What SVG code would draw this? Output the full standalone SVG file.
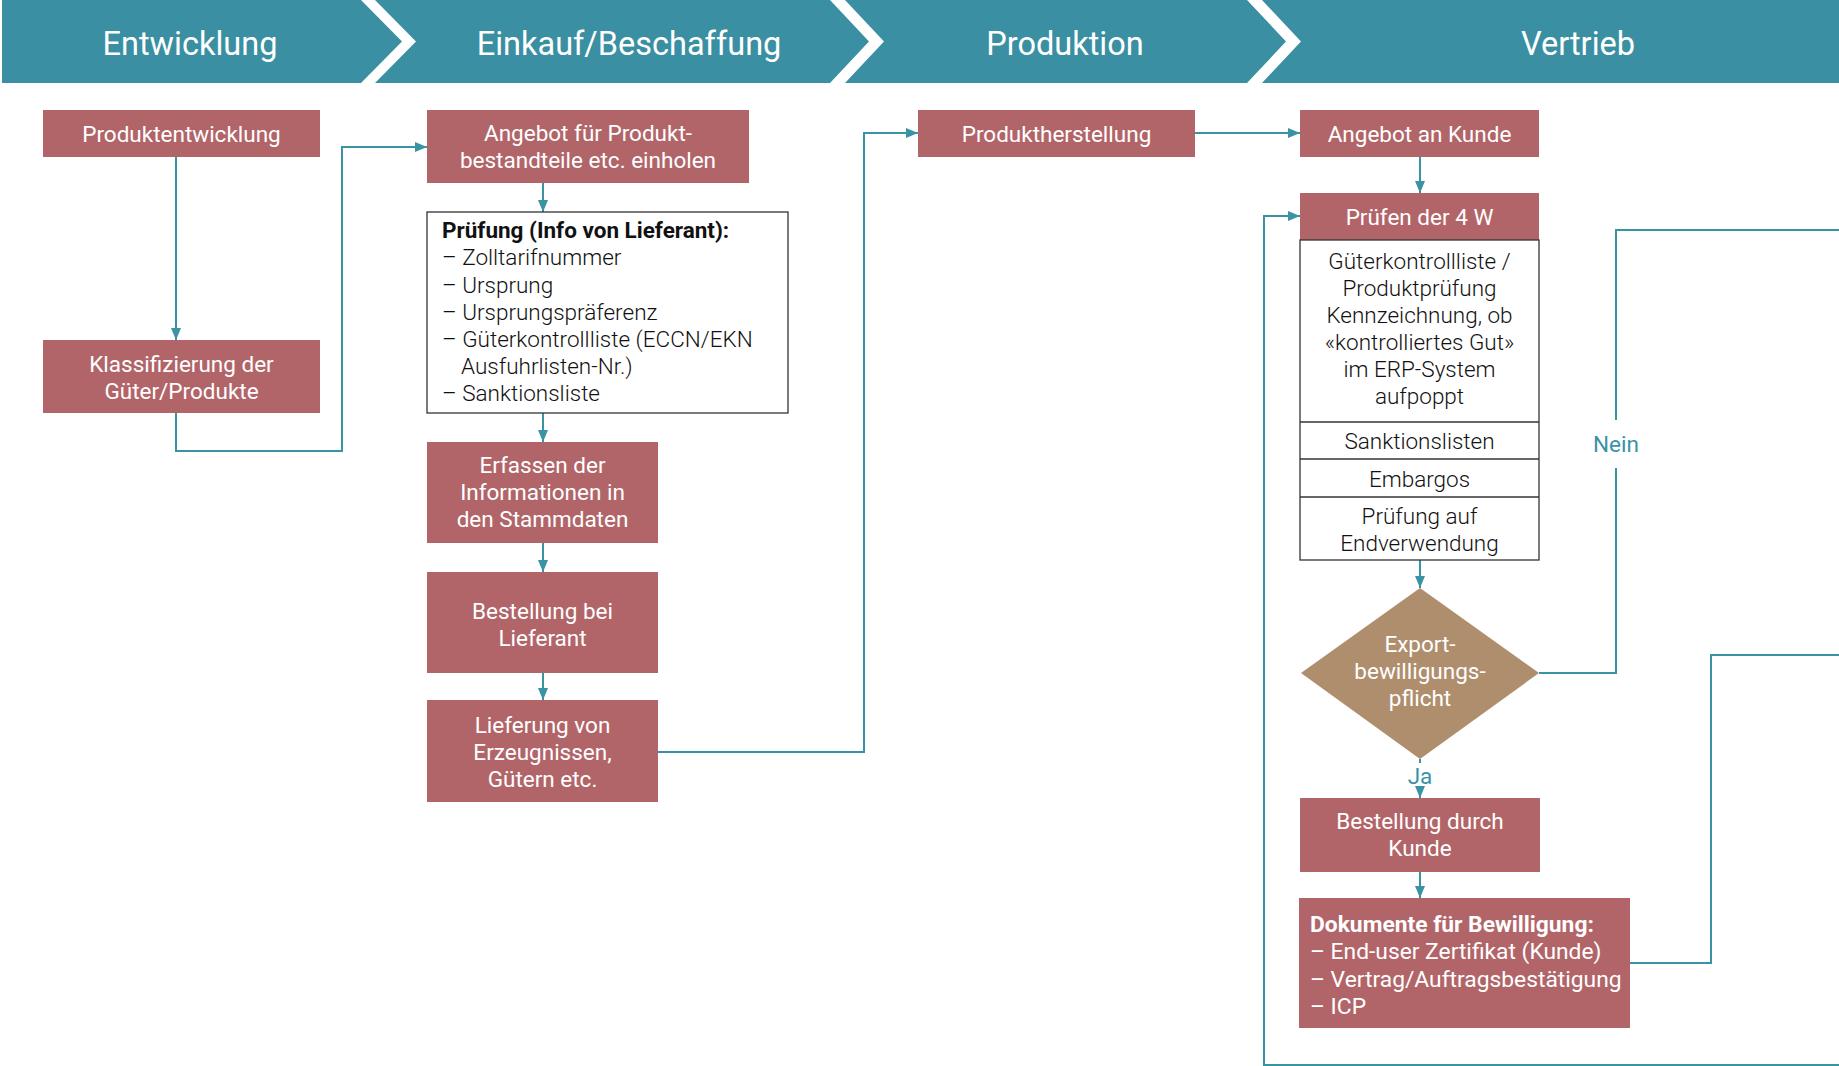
<svg xmlns="http://www.w3.org/2000/svg" width="1839" height="1066" viewBox="0 0 1839 1066">
<defs>
<marker id="ah" viewBox="0 0 12 10" refX="12" refY="5" markerWidth="12" markerHeight="10" markerUnits="userSpaceOnUse" orient="auto">
<path d="M0 0 L12 5 L0 10 Z" fill="#3A92A5"/>
</marker>
<style>
.hdr{fill:#3A8FA2}
.ht{font-family:Roboto,"Liberation Sans",sans-serif;font-size:32.5px;fill:#fff;text-anchor:middle}
.box{fill:#B26569}
.bt{font-family:Roboto,"Liberation Sans",sans-serif;font-size:22.5px;fill:#fff;text-anchor:middle}
.btl{font-family:Roboto,"Liberation Sans",sans-serif;font-size:22.8px;fill:#fff}
.wbox{fill:#fff;stroke:#333;stroke-width:1.3}
.lt{font-family:Roboto,"Liberation Sans",sans-serif;font-size:22.5px;font-weight:300;fill:#111}
.ltc{font-family:Roboto,"Liberation Sans",sans-serif;font-size:22.5px;font-weight:300;fill:#111;text-anchor:middle}
.dia{fill:#AF8E6E}
.con{fill:none;stroke:#3A92A5;stroke-width:2}
.lbl{font-family:Roboto,"Liberation Sans",sans-serif;font-size:22.5px;fill:#3A92A5;text-anchor:middle}
</style>
</defs>
<rect width="1839" height="1066" fill="#fff"/>
<g id="header">
<polygon class="hdr" points="2,0 361,0 402,41.5 361,83 2,83"/>
<polygon class="hdr" points="375,0 830,0 869,41.5 830,83 375,83 416,41.5"/>
<polygon class="hdr" points="845,0 1247,0 1286,41.5 1247,83 845,83 884,41.5"/>
<polygon class="hdr" points="1262,0 1839,0 1839,83 1262,83 1301,41.5"/>
<text class="ht" x="190" y="55">Entwicklung</text>
<text class="ht" x="629" y="55">Einkauf/Beschaffung</text>
<text class="ht" x="1065" y="55">Produktion</text>
<text class="ht" x="1578" y="55">Vertrieb</text>
</g>
<g id="connectors">
<path class="con" d="M176 157 V340" marker-end="url(#ah)"/>
<path class="con" d="M176 413 V451 H342 V147 H427" marker-end="url(#ah)"/>
<path class="con" d="M543 183 V212" marker-end="url(#ah)"/>
<path class="con" d="M543 413 V442" marker-end="url(#ah)"/>
<path class="con" d="M543 543 V572" marker-end="url(#ah)"/>
<path class="con" d="M543 673 V700" marker-end="url(#ah)"/>
<path class="con" d="M658 752 H864 V133 H918" marker-end="url(#ah)"/>
<path class="con" d="M1195 133 H1300" marker-end="url(#ah)"/>
<path class="con" d="M1420 157 V193" marker-end="url(#ah)"/>
<path class="con" d="M1839 1065 H1264 V216 H1300" marker-end="url(#ah)"/>
<path class="con" d="M1420 560 V588" marker-end="url(#ah)"/>
<path class="con" d="M1539 673 H1616 V468 M1616 420 V230 H1839"/>
<path class="con" d="M1420 759 V763 M1420 787 V798" marker-end="url(#ah)"/>
<path class="con" d="M1420 872 V898" marker-end="url(#ah)"/>
<path class="con" d="M1630 963 H1711 V655 H1839"/>
<text class="lbl" x="1616" y="452">Nein</text>
<text class="lbl" x="1420" y="784">Ja</text>
</g>
<g id="produktentwicklung">
<rect class="box" x="43" y="110" width="277" height="47"/>
<text class="bt" x="181.5" y="141.5">Produktentwicklung</text>
</g>
<g id="klassifizierung">
<rect class="box" x="43" y="340" width="277" height="73"/>
<text class="bt" x="181.5" y="372">Klassifizierung der</text>
<text class="bt" x="181.5" y="399">Güter/Produkte</text>
</g>
<g id="angebot-produkt">
<rect class="box" x="427" y="110" width="322" height="73"/>
<text class="bt" x="588" y="141">Angebot für Produkt-</text>
<text class="bt" x="588" y="168">bestandteile etc. einholen</text>
</g>
<g id="pruefung">
<rect class="wbox" x="427" y="212" width="361" height="201"/>
<text class="lt" x="442" y="238" style="font-weight:700">Prüfung (Info von Lieferant):</text>
<text class="lt" x="442" y="265">– Zolltarifnummer</text>
<text class="lt" x="442" y="293">– Ursprung</text>
<text class="lt" x="442" y="320">– Ursprungspräferenz</text>
<text class="lt" x="442" y="347">– Güterkontrollliste (ECCN/EKN</text>
<text class="lt" x="461" y="374">Ausfuhrlisten-Nr.)</text>
<text class="lt" x="442" y="401">– Sanktionsliste</text>
</g>
<g id="erfassen">
<rect class="box" x="427" y="442" width="231" height="101"/>
<text class="bt" x="542.5" y="473">Erfassen der</text>
<text class="bt" x="542.5" y="500">Informationen in</text>
<text class="bt" x="542.5" y="527">den Stammdaten</text>
</g>
<g id="bestellung-lieferant">
<rect class="box" x="427" y="572" width="231" height="101"/>
<text class="bt" x="542.5" y="619">Bestellung bei</text>
<text class="bt" x="542.5" y="646">Lieferant</text>
</g>
<g id="lieferung">
<rect class="box" x="427" y="700" width="231" height="102"/>
<text class="bt" x="542.5" y="733">Lieferung von</text>
<text class="bt" x="542.5" y="760">Erzeugnissen,</text>
<text class="bt" x="542.5" y="787">Gütern etc.</text>
</g>
<g id="produktherstellung">
<rect class="box" x="918" y="110" width="277" height="47"/>
<text class="bt" x="1056.5" y="141.5">Produktherstellung</text>
</g>
<g id="angebot-kunde">
<rect class="box" x="1300" y="110" width="239" height="47"/>
<text class="bt" x="1419.5" y="141.5">Angebot an Kunde</text>
</g>
<g id="pruefen-4w">
<rect class="box" x="1300" y="193" width="239" height="47"/>
<text class="bt" x="1419.5" y="224.5">Prüfen der 4 W</text>
<rect class="wbox" x="1300" y="240" width="239" height="320"/>
<line x1="1300" y1="422" x2="1539" y2="422" stroke="#333" stroke-width="1.3"/>
<line x1="1300" y1="459" x2="1539" y2="459" stroke="#333" stroke-width="1.3"/>
<line x1="1300" y1="497" x2="1539" y2="497" stroke="#333" stroke-width="1.3"/>
<text class="ltc" x="1419.5" y="269">Güterkontrollliste /</text>
<text class="ltc" x="1419.5" y="296">Produktprüfung</text>
<text class="ltc" x="1419.5" y="323">Kennzeichnung, ob</text>
<text class="ltc" x="1419.5" y="350">«kontrolliertes Gut»</text>
<text class="ltc" x="1419.5" y="377">im ERP-System</text>
<text class="ltc" x="1419.5" y="404">aufpoppt</text>
<text class="ltc" x="1419.5" y="449">Sanktionslisten</text>
<text class="ltc" x="1419.5" y="487">Embargos</text>
<text class="ltc" x="1419.5" y="524">Prüfung auf</text>
<text class="ltc" x="1419.5" y="551">Endverwendung</text>
</g>
<g id="exportbewilligung">
<polygon class="dia" points="1420,588 1539,673 1420,759 1301,673"/>
<text class="bt" x="1420" y="652">Export-</text>
<text class="bt" x="1420" y="679">bewilligungs-</text>
<text class="bt" x="1420" y="706">pflicht</text>
</g>
<g id="bestellung-kunde">
<rect class="box" x="1300" y="798" width="240" height="74"/>
<text class="bt" x="1420" y="829">Bestellung durch</text>
<text class="bt" x="1420" y="856">Kunde</text>
</g>
<g id="dokumente">
<rect class="box" x="1299" y="898" width="331" height="130"/>
<text class="btl" x="1310" y="932" style="font-weight:700">Dokumente für Bewilligung:</text>
<text class="btl" x="1310" y="959">– End-user Zertifikat (Kunde)</text>
<text class="btl" x="1310" y="987">– Vertrag/Auftragsbestätigung</text>
<text class="btl" x="1310" y="1014">– ICP</text>
</g>
</svg>
